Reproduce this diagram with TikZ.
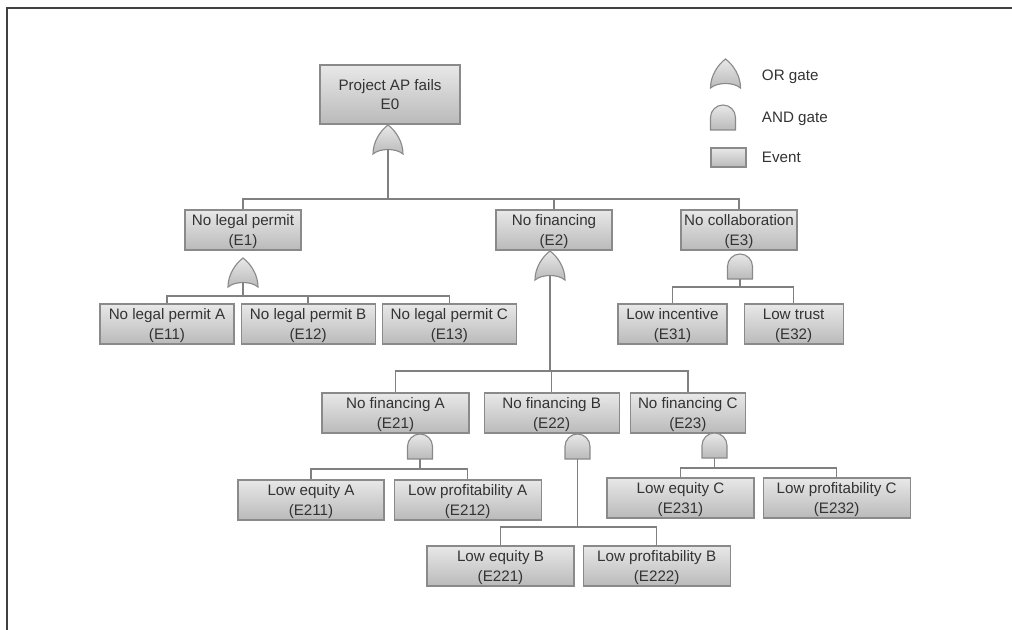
\documentclass[tikz,border=0pt]{standalone}
\usepackage{fontspec}
\setmainfont{Liberation Sans}
\usetikzlibrary{positioning}
\definecolor{evtop}{HTML}{E8E8E8}
\definecolor{evbot}{HTML}{BABABA}
\definecolor{rim}{HTML}{8A8A8A}
\definecolor{ink}{HTML}{333333}
\definecolor{wire}{HTML}{808080}
\newcommand{\evfont}{\fontsize{10.8}{14}\selectfont}
\tikzset{
  ev/.style={draw=rim, line width=0.8pt, top color=evtop, bottom color=evbot,
             align=center, inner sep=1pt, minimum height=1cm, text depth=0pt,
             text=ink, font=\evfont},
  gt/.style={draw=rim, line width=0.8pt, top color=evtop, bottom color=evbot},
  wr/.style={draw=wire, line width=1pt},
  lg/.style={anchor=west, text=ink, font=\evfont},
  orgate/.pic={
    \path[gt] (0,0) .. controls (8,6) and (15,17) .. (15,29)
      .. controls (8,23) and (-8,23) .. (-15,29)
      .. controls (-15,17) and (-8,6) .. (0,0) -- cycle;
    \coordinate (-bot) at (0,24.5);
  },
  andgate/.pic={
    \path[gt] (-12.5,25) -- (-12.5,12.5) .. controls (-12.5,5.6) and (-6.9,0) .. (0,0)
      .. controls (6.9,0) and (12.5,5.6) .. (12.5,12.5) -- (12.5,25) -- cycle;
    \coordinate (-bot) at (0,25);
  },
}

\begin{document}
\begin{tikzpicture}[x=0.025cm, y=-0.025cm]
    \useasboundingbox (0,0) rectangle (1012,630);
    \draw[line width=1.5pt, black!75] (1012,8) -- (7,8) -- (7,630);

    % top event and first level
    \node[ev, minimum width=3.5cm, minimum height=1.475cm] (e0) at (390,94.5) {Project AP fails\\E0};
    \node[ev, minimum width=2.9cm] (e1) at (243,230) {No legal permit\\(E1)};
    \node[ev, minimum width=2.9cm] (e2) at (554,230) {No financing\\(E2)};
    \node[ev, minimum width=2.9cm] (e3) at (739,230) {No collaboration\\(E3)};

    \node[ev, minimum width=3.35cm] (e11) at (167,324) {No legal permit A\\(E11)};
    \node[ev, minimum width=3.35cm, right=0.15cm of e11] (e12) {No legal permit B\\(E12)};
    \node[ev, minimum width=3.35cm, right=0.15cm of e12] (e13) {No legal permit C\\(E13)};

    \node[ev, minimum width=2.725cm] (e31) at (672.5,324) {Low incentive\\(E31)};
    \node[ev, minimum width=2.475cm, right=0.4cm of e31] (e32) {Low trust\\(E32)};

    \node[ev, minimum width=3.675cm] (e21) at (395.5,413) {No financing A\\(E21)};
    \node[ev, minimum width=3.375cm, right=0.35cm of e21] (e22) {No financing B\\(E22)};
    \node[ev, minimum width=2.875cm, right=0.25cm of e22] (e23) {No financing C\\(E23)};

    \node[ev, minimum width=3.65cm] (e211) at (311,500) {Low equity A\\(E211)};
    \node[ev, minimum width=3.675cm, right=0.225cm of e211] (e212) {Low profitability A\\(E212)};
    \node[ev, minimum width=3.675cm] (e231) at (680.5,498) {Low equity C\\(E231)};
    \node[ev, minimum width=3.675cm, right=0.2cm of e231] (e232) {Low profitability C\\(E232)};
    \node[ev, minimum width=3.675cm] (e221) at (500.5,566) {Low equity B\\(E221)};
    \node[ev, minimum width=3.675cm, right=0.2cm of e221] (e222) {Low profitability B\\(E222)};

    % gates
    \pic (g0) at (388,125) {orgate};
    \pic (g1) at (243,258) {orgate};
    \pic (g2) at (550,251) {orgate};
    \pic (g3) at (740,254) {andgate};
    \pic (g21) at (420,434) {andgate};
    \pic (g22) at (577.5,434) {andgate};
    \pic (g23) at (714.5,433) {andgate};

    \coordinate (b0) at (388,199);
    \coordinate (b1) at (243,296);
    \coordinate (b2) at (550,371);
    \coordinate (b3) at (740,287);
    \coordinate (b21) at (420,469);
    \coordinate (b22) at (577.5,527);
    \coordinate (b23) at (714.5,468);

    \foreach \c in {e1,e2,e3} \draw[wr] (g0-bot) -- (b0) -| (\c.north);
    \foreach \c in {e11,e12,e13} \draw[wr] (g1-bot) -- (b1) -| (\c.north);
    \foreach \c in {e21,e22,e23} \draw[wr] (g2-bot) -- (b2) -| (\c.north);
    \foreach \c in {e31,e32} \draw[wr] (g3-bot) -- (b3) -| (\c.north);
    \foreach \c in {e211,e212} \draw[wr] (g21-bot) -- (b21) -| (\c.north);
    \foreach \c in {e221,e222} \draw[wr] (g22-bot) -- (b22) -| (\c.north);
    \foreach \c in {e231,e232} \draw[wr] (g23-bot) -- (b23) -| (\c.north);

    % legend
    \pic (lor) at (725.5,59) {orgate};
    \node[lg] (tor) at (757,77) {OR gate};
    \pic (land) at (723,105) {andgate};
    \node[lg] (tand) at (757,119) {AND gate};
    \node[ev, minimum width=0.875cm, minimum height=0.475cm, inner sep=0pt] (lev) at (728.5,157.5) {};
    \node[lg] (tev) at (757,157.5) {Event};
\end{tikzpicture}
\end{document}
